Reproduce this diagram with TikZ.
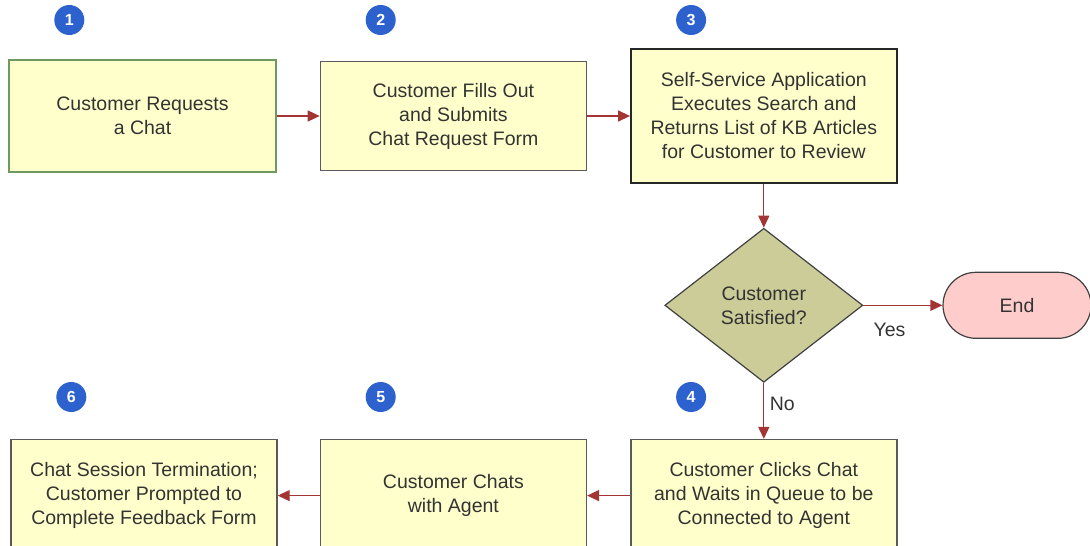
\documentclass[tikz,border=0pt]{standalone}
\usepackage{fontspec}
\setmainfont{Liberation Sans}
\usepackage{tikz}
\usetikzlibrary{arrows.meta,positioning,shapes.geometric,calc}
\definecolor{boxfill}{HTML}{FFFFCC}
\definecolor{boxline}{HTML}{5A5A5A}
\definecolor{greenline}{HTML}{6E9A62}
\definecolor{decfill}{HTML}{CCCC99}
\definecolor{endfill}{HTML}{FFCCCC}
\definecolor{flowred}{HTML}{A33535}
\definecolor{badgeblue}{HTML}{2D62CE}
\definecolor{txtgray}{HTML}{333333}

\begin{document}
\begin{tikzpicture}[
    x=1pt, y=1pt,
    font=\fontsize{19.5}{24}\selectfont,
    text=txtgray,
    stepbox/.style={
      rectangle,
      draw=boxline,
      line width=1.4pt,
      fill=boxfill,
      minimum width=266pt,
      minimum height=110pt,
      inner sep=0pt,
      align=center
    },
    decision/.style={
      diamond,
      draw=black!75,
      line width=1.2pt,
      fill=decfill,
      minimum width=198pt,
      minimum height=154pt,
      inner sep=0pt,
      align=center
    },
    terminal/.style={
      rectangle,
      rounded corners=33pt,
      draw=black!75,
      line width=1.2pt,
      fill=endfill,
      minimum width=148pt,
      minimum height=66pt
    },
    badge/.style={
      circle,
      fill=badgeblue,
      minimum size=30pt,
      inner sep=0pt,
      text=white,
      font=\fontsize{16}{16}\selectfont\bfseries
    },
    flow/.style={
      draw=flowred,
      line width=1.3pt,
      -{Triangle[length=12pt,width=11pt]}
    }
  ]
  \useasboundingbox (0,0) rectangle (1090,-546);

  % top row
  \node[stepbox, draw=greenline, minimum width=267pt, minimum height=112pt] (box1) at (142.5,-116)
    {Customer Requests\\a Chat};
  \node[stepbox, minimum height=109pt, right=43pt of box1] (box2)
    {Customer Fills Out\\and Submits\\Chat Request Form};
  \node[stepbox, draw=black!85, minimum height=134pt, right=43pt of box2] (box3)
    {Self-Service Application\\Executes Search and\\Returns List of KB Articles\\for Customer to Review};

  % decision and end
  \node[decision, below=44pt of box3] (dec) {Customer\\Satisfied?};
  \node[terminal, right=79pt of dec] (end) {End};

  % bottom row
  \node[stepbox, minimum height=112pt, below=56pt of dec] (box4)
    {Customer Clicks Chat\\and Waits in Queue to be\\Connected to Agent};
  \node[stepbox, minimum height=112pt, left=43pt of box4] (box5)
    {Customer Chats\\with Agent};
  \node[stepbox, minimum height=112pt, left=42pt of box5] (box6)
    {Chat Session Termination;\\Customer Prompted to\\Complete Feedback Form};

  % step numbers
  \coordinate (toprow) at (0,-20);
  \coordinate (botrow) at (0,-397);
  \foreach \n/\row in {1/toprow,2/toprow,3/toprow,4/botrow,5/botrow,6/botrow}
    \node[badge] (num\n) at ($(box\n.west |- \row)+(61,0)$) {\n};

  % connectors
  \draw[flow] (box1) -- (box2);
  \draw[flow] (box2) -- (box3);
  \draw[flow] (box3) -- (dec);
  \draw[flow] (dec) -- node[pos=0.33, below, yshift=-14pt] {Yes} (end);
  \draw[flow] (dec) -- node[pos=0.38, right, xshift=2pt] {No} (box4);
  \draw[flow] (box4) -- (box5);
  \draw[flow] (box5) -- (box6);
\end{tikzpicture}
\end{document}
